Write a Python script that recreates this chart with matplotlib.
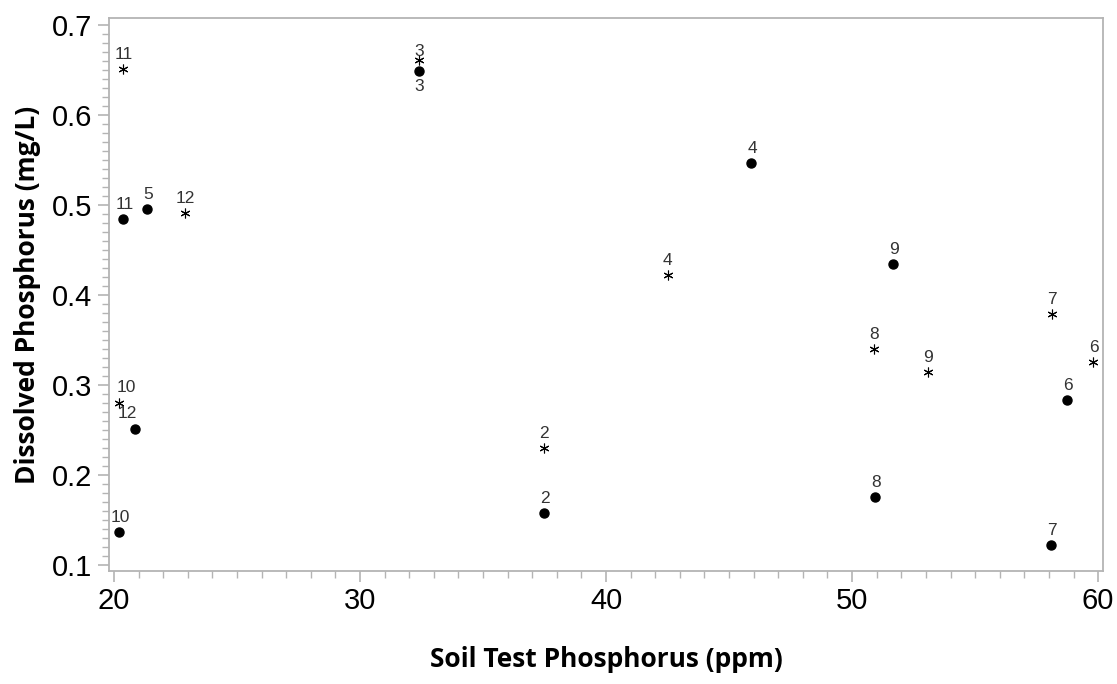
import matplotlib
matplotlib.use("Agg")
import matplotlib.pyplot as plt
from matplotlib.ticker import MultipleLocator

# dissolved P vs soil test P, two series (dots and stars), each point labelled
dot_labels = ["2", "3", "4", "5", "6", "7", "8", "9", "10", "11", "12"]
dot_x = [37.49, 32.40, 45.89, 21.35, 58.72, 58.10, 50.92, 51.68, 20.20, 20.38, 20.85]
dot_y = [0.158, 0.649, 0.547, 0.496, 0.283, 0.122, 0.176, 0.435, 0.137, 0.484, 0.251]

star_labels = ["2", "3", "4", "6", "7", "8", "9", "10", "11", "12"]
star_x = [37.49, 32.40, 42.51, 59.81, 58.12, 50.91, 53.10, 20.20, 20.38, 22.89]
star_y = [0.230, 0.661, 0.422, 0.326, 0.379, 0.340, 0.314, 0.280, 0.651, 0.491]

# label offsets in pixels (dx, dy) where the default "above" would collide
dot_offsets = {"3": (0, -8), "12": (-8, 8)}
star_offsets = {"3": (0, 1), "10": (7, 8)}

GRAY = "#b4b4b4"
LABEL_FONT = "Liberation Sans"
TITLE_FONT = "Open Sans"

fig = plt.figure(figsize=(11.17, 6.84), dpi=100)
ax = fig.add_axes([0.0976, 0.1656, 0.8899, 0.8076])

ax.plot(dot_x, dot_y, "o", color="black", markersize=6.5, linestyle="none")
ax.plot(star_x, star_y, marker=(6, 2, 0), color="black", markersize=7,
        markeredgewidth=0.8, linestyle="none")

px = 72 / 100  # pixels -> points
for lab, x, y in zip(dot_labels, dot_x, dot_y):
    dx, dy = dot_offsets.get(lab, (1, 7))
    ax.annotate(lab, (x, y), xytext=(dx * px, dy * px), textcoords="offset points",
                ha="center", va="bottom" if dy > 0 else "top",
                fontsize=12.5, color="#333333", family=LABEL_FONT)
for lab, x, y in zip(star_labels, star_x, star_y):
    dx, dy = star_offsets.get(lab, (0, 7))
    ax.annotate(lab, (x, y), xytext=(dx * px, dy * px), textcoords="offset points",
                ha="center", va="bottom",
                fontsize=12.5, color="#333333", family=LABEL_FONT)

ax.set_xlim(19.797, 60.20)
ax.set_ylim(0.0937, 0.7074)
ax.xaxis.set_major_locator(MultipleLocator(10))
ax.xaxis.set_minor_locator(MultipleLocator(1))
ax.yaxis.set_major_locator(MultipleLocator(0.1))
ax.yaxis.set_minor_locator(MultipleLocator(0.01))

for s in ax.spines.values():
    s.set_color(GRAY)
    s.set_linewidth(1.3)
ax.tick_params(which="major", length=8, width=1.2, color=GRAY,
               labelsize=21, pad=4)
ax.tick_params(which="minor", length=5, width=1.0, color=GRAY)
for t in ax.get_xticklabels() + ax.get_yticklabels():
    t.set_family(LABEL_FONT)

ax.set_xlabel("Soil Test Phosphorus (ppm)", family=TITLE_FONT,
              fontweight="bold", fontsize=19, labelpad=22)
ax.set_ylabel("Dissolved Phosphorus (mg/L)", family=TITLE_FONT,
              fontweight="bold", fontsize=19, labelpad=8)

fig.savefig("out.png", dpi=100)
